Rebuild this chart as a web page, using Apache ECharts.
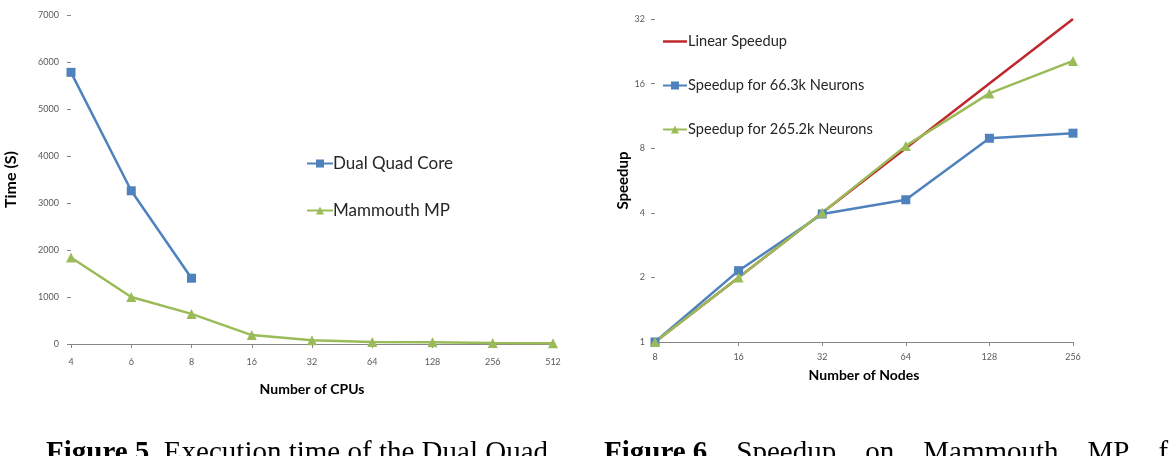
<!DOCTYPE html>
<html>
<head>
<meta charset="utf-8">
<script src="https://cdn.jsdelivr.net/npm/echarts@6/dist/echarts.min.js"></script>
<style>
  html, body { margin: 0; padding: 0; background: #fff; }
  #main { width: 1176px; height: 456px; }
</style>
</head>
<body>
<div id="main"></div>
<script>
// Figure 5 data: execution time vs number of CPUs
var cpus = ['4', '6', '8', '16', '32', '64', '128', '256', '512'];
var dualQuadCore = [5780, 3260, 1400, null, null, null, null, null, null];
var mammouthMP = [1840, 1000, 640, 190, 80, 40, 35, 20, 15];

// Figure 6 data: speedup vs number of nodes
var nodes = ['8', '16', '32', '64', '128', '256'];
var linearSpeedup = [1, 2, 4, 8, 16, 32];
var speedup663k = [1, 2.15, 3.95, 4.6, 8.9, 9.4];
var speedup2652k = [1, 2, 4, 8.2, 14.4, 20.4];

var blue = '#4F81BD';
var green = '#9BBB59';
var red = '#C0282D';
var axisGrey = '#868686';
var labelGrey = '#595959';

var chart = echarts.init(document.getElementById('main'));

var axisCommon = {
  axisLine: { lineStyle: { color: axisGrey, width: 1 } },
  axisTick: { show: true, inside: false, length: 4, lineStyle: { color: axisGrey } },
  axisLabel: { color: labelGrey, fontSize: 9, fontFamily: 'Lato', formatter: function (v) { return String(v); } },
  splitLine: { show: false },
  nameTextStyle: { color: '#000', fontWeight: 'bold', fontFamily: 'Lato' }
};

var option = {
  backgroundColor: '#fff',
  animation: false,
  grid: [
    { left: 71, top: 15, width: 482, height: 329 },
    { left: 655, top: 19, width: 418, height: 323 }
  ],
  legend: [
    {
      data: ['Dual Quad Core', 'Mammouth MP'],
      orient: 'vertical',
      left: 301,
      top: 150,
      itemGap: 30,
      itemWidth: 26,
      itemHeight: 10,
      textStyle: { fontSize: 17, color: '#262626', fontFamily: 'Lato', padding: [0, 0, 0, -5] }
    },
    {
      data: [
        { name: 'Linear Speedup', icon: 'path://M0,0L0.01,0M0,3.7H24V6.3H0ZM0,10L0.01,10' },
        'Speedup for 66.3k Neurons',
        'Speedup for 265.2k Neurons'
      ],
      orient: 'vertical',
      left: 657,
      top: 29,
      itemGap: 29,
      itemWidth: 24,
      itemHeight: 10,
      textStyle: { fontSize: 14.6, color: '#262626', fontFamily: 'Lato', padding: [0, 0, 0, -4] }
    }
  ],
  xAxis: [
    Object.assign({}, axisCommon, {
      type: 'category',
      gridIndex: 0,
      data: cpus,
      boundaryGap: false,
      name: 'Number of CPUs',
      nameLocation: 'middle',
      nameGap: 38,
      nameTextStyle: Object.assign({}, axisCommon.nameTextStyle, { fontSize: 14 }),
      axisLabel: Object.assign({}, axisCommon.axisLabel, { margin: 14 })
    }),
    Object.assign({}, axisCommon, {
      type: 'category',
      gridIndex: 1,
      data: nodes,
      boundaryGap: false,
      name: 'Number of Nodes',
      nameLocation: 'middle',
      nameGap: 26,
      nameTextStyle: Object.assign({}, axisCommon.nameTextStyle, { fontSize: 14 }),
      axisLabel: Object.assign({}, axisCommon.axisLabel, { margin: 11 })
    })
  ],
  yAxis: [
    Object.assign({}, axisCommon, {
      type: 'value',
      gridIndex: 0,
      min: 0,
      max: 7000,
      interval: 1000,
      name: 'Time (S)',
      nameLocation: 'middle',
      nameGap: 52,
      nameTextStyle: Object.assign({}, axisCommon.nameTextStyle, { fontSize: 16 }),
      axisLabel: Object.assign({}, axisCommon.axisLabel, { margin: 12 })
    }),
    Object.assign({}, axisCommon, {
      type: 'log',
      logBase: 2,
      gridIndex: 1,
      min: 1,
      max: 32,
      interval: 1,
      name: 'Speedup',
      nameLocation: 'middle',
      nameGap: 24,
      nameTextStyle: Object.assign({}, axisCommon.nameTextStyle, { fontSize: 15 }),
      axisLabel: Object.assign({}, axisCommon.axisLabel, { margin: 10 })
    })
  ],
  series: [
    {
      name: 'Dual Quad Core', type: 'line', xAxisIndex: 0, yAxisIndex: 0,
      data: dualQuadCore, symbol: 'rect', symbolSize: 9,
      lineStyle: { color: blue, width: 2.5 }, itemStyle: { color: blue }
    },
    {
      name: 'Mammouth MP', type: 'line', xAxisIndex: 0, yAxisIndex: 0,
      data: mammouthMP, symbol: 'triangle', symbolSize: 10,
      lineStyle: { color: green, width: 2.5 }, itemStyle: { color: green }
    },
    {
      name: 'Linear Speedup', type: 'line', xAxisIndex: 1, yAxisIndex: 1,
      data: linearSpeedup, symbol: 'none',
      lineStyle: { color: red, width: 2.5 }, itemStyle: { color: red }
    },
    {
      name: 'Speedup for 66.3k Neurons', type: 'line', xAxisIndex: 1, yAxisIndex: 1,
      data: speedup663k, symbol: 'rect', symbolSize: 9,
      lineStyle: { color: blue, width: 2.5 }, itemStyle: { color: blue }
    },
    {
      name: 'Speedup for 265.2k Neurons', type: 'line', xAxisIndex: 1, yAxisIndex: 1,
      data: speedup2652k, symbol: 'triangle', symbolSize: 10,
      lineStyle: { color: green, width: 2.5 }, itemStyle: { color: green }
    }
  ],
  graphic: [
    {
      type: 'text', left: 46, top: 439,
      style: {
        text: '{b|Figure 5.} Execution time of the Dual Quad',
        font: '29px "Liberation Serif"',
        fill: '#000',
        rich: { b: { fontWeight: 'bold', fontSize: 29, fontFamily: 'Liberation Serif' } }
      }
    },
    {
      type: 'text', left: 604, top: 439,
      style: {
        text: '{b|Figure 6.}   Speedup    on    Mammouth    MP    f',
        font: '29px "Liberation Serif"',
        fill: '#000',
        rich: { b: { fontWeight: 'bold', fontSize: 29, fontFamily: 'Liberation Serif' } }
      }
    }
  ]
};

chart.setOption(option);
</script>
</body>
</html>
